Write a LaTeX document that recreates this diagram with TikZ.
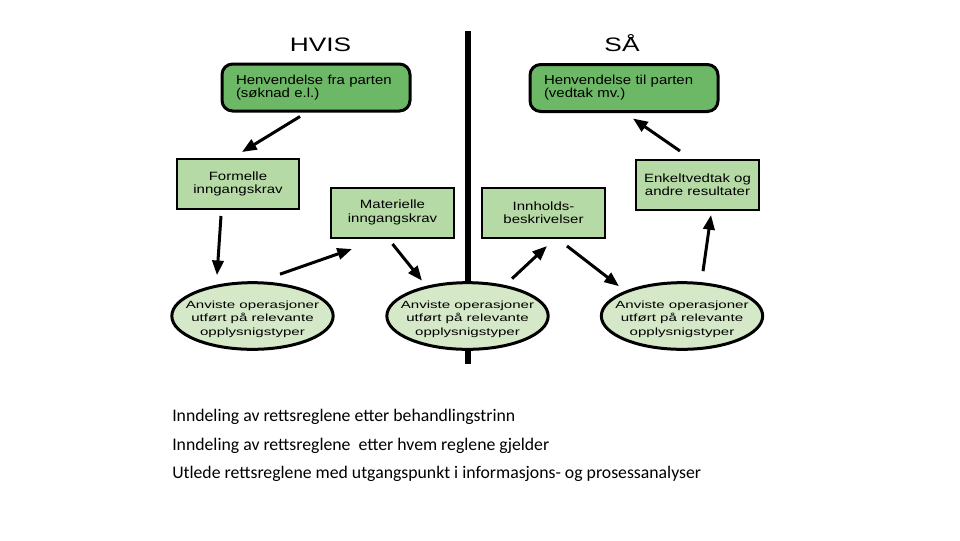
\documentclass[tikz,border=0pt]{standalone}
\usepackage{fontspec}
\setmainfont{Carlito}
\newfontfamily\partfont[FakeStretch=1.15]{Liberation Sans}
\newfontfamily\kravfont[FakeStretch=1.25]{Liberation Sans}
\newfontfamily\opfont[FakeStretch=1.45]{Liberation Sans}
\newfontfamily\headfont[FakeStretch=1.35]{Liberation Sans}
\usetikzlibrary{shapes.geometric, arrows.meta, calc}
\definecolor{partgreen}{HTML}{6DB866}
\definecolor{kravgreen}{HTML}{B6DAA6}
\definecolor{opgreen}{HTML}{D5E8C8}
\newcommand{\optext}{\raisebox{-2.25pt}[\height][\depth]{\begin{tabular}{@{}c@{}}%
  Anviste operasjoner\\utført på relevante\\opplysnigstyper\end{tabular}}}
\tikzset{
  part/.style={draw, line width=2.25pt, rounded corners=8pt, fill=partgreen,
    text width=120pt, inner xsep=10.5pt, inner ysep=0pt, minimum height=35.25pt,
    align=left, font=\partfont\fontsize{9.75}{9.75}\selectfont},
  krav/.style={draw, line width=1.5pt, fill=kravgreen, minimum width=92pt,
    minimum height=37.5pt, inner sep=0pt, align=center,
    font=\kravfont\fontsize{9}{10}\selectfont},
  oper/.style={ellipse, draw, line width=2.25pt, fill=opgreen, minimum width=121pt,
    minimum height=50pt, inner xsep=-8pt, inner ysep=0pt,
    font=\opfont\fontsize{7.8}{10.1}\selectfont},
  pil/.style={line width=2.25pt, -{Triangle[length=11pt,width=8.5pt]}},
  head/.style={anchor=base, inner sep=0pt, font=\headfont\fontsize{14.6}{14.6}\selectfont},
  note/.style={anchor=base west, inner sep=0pt, font=\fontsize{13.3}{13.3}\selectfont},
}
\begin{document}
\begin{tikzpicture}[x=0.75pt, y=-0.75pt]
\useasboundingbox (0,0) rectangle (960,540);
\fill[white] (0,0) rectangle (960,540);

% skillelinje
\draw[line width=5pt] (468,31) -- (468,364);

\node[head] (hvis) at (320.5,51) {HVIS};
\node[head] (saa) at (622,51) {SÅ};

\node[part] (hl) at (316,87.5) {Henvendelse fra parten\\(søknad e.l.)};
\node[part] (hr) at (624,88) {Henvendelse til parten\\(vedtak mv.)};

\node[krav] (fk) at (238,184) {Formelle\\inngangskrav};
\node[krav] (mk) at (392.5,212.5) {Materielle\\inngangskrav};
\node[krav] (ib) at (543.5,213) {Innholds-\\beskrivelser};
\node[krav] (ev) at (697.5,184.5) {Enkeltvedtak og\\andre resultater};

\node[oper] (e1) at (252.5,316) {\optext};
\node[oper] (e2) at (467.5,316) {\optext};
\node[oper] (e3) at (682,316) {\optext};

% piler
\draw[pil] ($(hl.south)+(-16,4)$) -- ($(fk.north)+(4,-6)$);
\draw[pil] ($(fk.south)+(-17,6)$) -- ($(e1.north)+(-35.5,-6)$);
\draw[pil] ($(e1.north)+(27.5,-7)$) -- ($(mk.south)+(-40.5,10.5)$);
\draw[pil] ($(mk.south)+(0,5.5)$) -- ($(e2.north)+(-45.5,-0.5)$);
\draw[pil] ($(e2.north)+(44.5,-2.5)$) -- ($(ib.south)+(3.5,7)$);
\draw[pil] ($(ib.south)+(23.5,7)$) -- ($(e3.north)+(-63,5)$);
\draw[pil] ($(e3.north)+(21,-10)$) -- ($(ev.south)+(13.5,4.5)$);
\draw[pil] ($(ev.north)+(-17.5,-7.5)$) -- ($(hr.south)+(9,5.5)$);

\node[note] (t1) at (172,421) {Inndeling av rettsreglene etter behandlingstrinn};
\node[note] (t2) at (172,450) {Inndeling av rettsreglene\ \ etter hvem reglene gjelder};
\node[note] (t3) at (172,478) {Utlede rettsreglene med utgangspunkt i informasjons- og prosessanalyser};
\end{tikzpicture}
\end{document}
